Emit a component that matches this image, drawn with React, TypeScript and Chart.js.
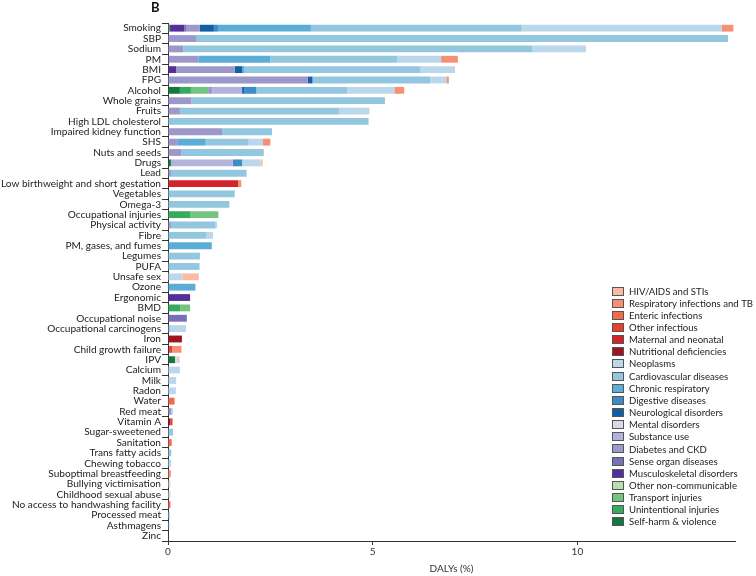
import React, { useEffect, useRef } from 'react';
import { Chart, registerables } from 'chart.js';

Chart.register(...registerables);

const categories = [
  'Smoking', 'SBP', 'Sodium', 'PM', 'BMI', 'FPG', 'Alcohol', 'Whole grains', 'Fruits', 'High LDL cholesterol',
  'Impaired kidney function', 'SHS', 'Nuts and seeds', 'Drugs', 'Lead', 'Low birthweight and short gestation', 'Vegetables', 'Omega-3', 'Occupational injuries', 'Physical activity',
  'Fibre', 'PM, gases, and fumes', 'Legumes', 'PUFA', 'Unsafe sex', 'Ozone', 'Ergonomic', 'BMD', 'Occupational noise', 'Occupational carcinogens',
  'Iron', 'Child growth failure', 'IPV', 'Calcium', 'Milk', 'Radon', 'Water', 'Red meat', 'Vitamin A', 'Sugar-sweetened',
  'Sanitation', 'Trans fatty acids', 'Chewing tobacco', 'Suboptimal breastfeeding', 'Bullying victimisation', 'Childhood sexual abuse', 'No access to handwashing facility', 'Processed meat', 'Asthmagens', 'Zinc',
];

// Series in stacking order (left to right); legend shows them reversed.
const selfHarm = [
  0, 0, 0, 0, 0, 0, 0.29, 0, 0, 0,
  0, 0, 0, 0.07, 0, 0, 0, 0, 0, 0,
  0, 0, 0, 0, 0, 0, 0, 0, 0, 0,
  0, 0, 0.17, 0, 0, 0, 0, 0, 0, 0,
  0, 0, 0, 0, 0, 0, 0, 0, 0, 0,
];
const unintentional = [
  0.05, 0, 0, 0, 0, 0, 0.27, 0, 0, 0,
  0, 0, 0, 0, 0, 0, 0, 0, 0.55, 0,
  0, 0, 0, 0, 0, 0, 0, 0.30, 0, 0,
  0, 0, 0, 0, 0, 0, 0, 0, 0, 0,
  0, 0, 0, 0, 0, 0, 0, 0, 0, 0,
];
const transport = [
  0, 0, 0, 0, 0, 0, 0.42, 0, 0, 0,
  0, 0, 0, 0, 0, 0, 0, 0, 0.68, 0,
  0, 0, 0, 0, 0, 0, 0, 0.24, 0, 0,
  0, 0, 0, 0, 0, 0, 0, 0, 0, 0,
  0, 0, 0, 0, 0, 0, 0, 0, 0, 0,
];
const otherNcd = [
  0, 0, 0, 0, 0, 0, 0, 0, 0, 0,
  0, 0, 0, 0, 0, 0, 0, 0, 0, 0,
  0, 0, 0, 0, 0, 0, 0, 0, 0, 0,
  0, 0, 0, 0, 0, 0, 0, 0, 0, 0,
  0, 0, 0, 0, 0, 0, 0, 0, 0, 0,
];
const musculoskeletal = [
  0.35, 0, 0, 0, 0.20, 0, 0, 0, 0, 0,
  0, 0, 0, 0, 0, 0, 0, 0, 0, 0,
  0, 0, 0, 0, 0, 0, 0.54, 0, 0, 0,
  0, 0, 0, 0, 0, 0, 0, 0, 0, 0,
  0, 0, 0, 0, 0, 0, 0, 0, 0, 0,
];
const senseOrgan = [
  0.04, 0, 0, 0.04, 0, 0, 0, 0, 0, 0,
  0, 0, 0, 0, 0, 0, 0, 0, 0, 0,
  0, 0, 0, 0, 0, 0, 0, 0, 0.46, 0,
  0, 0, 0, 0, 0, 0, 0, 0, 0, 0,
  0, 0, 0, 0, 0, 0, 0, 0, 0, 0,
];
const diabetesCkd = [
  0.34, 0.70, 0.37, 0.70, 1.43, 3.41, 0.10, 0.57, 0.29, 0,
  1.32, 0.24, 0.33, 0, 0.07, 0, 0, 0, 0, 0.07,
  0, 0, 0, 0, 0, 0, 0, 0, 0, 0,
  0, 0, 0, 0, 0, 0, 0, 0.08, 0, 0.03,
  0, 0, 0, 0, 0, 0, 0, 0, 0, 0,
];
const substanceUse = [
  0, 0, 0, 0, 0, 0, 0.73, 0, 0, 0,
  0, 0, 0, 1.51, 0, 0, 0, 0, 0, 0,
  0, 0, 0, 0, 0, 0, 0, 0, 0, 0,
  0, 0, 0, 0, 0, 0, 0, 0, 0, 0,
  0, 0, 0, 0, 0, 0, 0, 0, 0, 0,
];
const mental = [
  0, 0, 0, 0, 0, 0, 0, 0, 0, 0,
  0, 0, 0, 0, 0, 0, 0, 0, 0, 0,
  0, 0, 0, 0, 0, 0, 0, 0, 0, 0,
  0, 0, 0.07, 0, 0, 0, 0, 0, 0, 0,
  0, 0, 0, 0, 0.06, 0.06, 0, 0, 0, 0,
];
const neurological = [
  0.34, 0, 0, 0, 0.18, 0.12, 0.05, 0, 0, 0,
  0, 0, 0, 0, 0, 0, 0, 0, 0, 0,
  0, 0, 0, 0, 0, 0, 0, 0, 0, 0,
  0, 0, 0, 0, 0, 0, 0, 0, 0, 0,
  0, 0, 0, 0, 0, 0, 0, 0, 0, 0,
];
const digestive = [
  0.10, 0, 0, 0, 0, 0, 0.30, 0, 0, 0,
  0, 0, 0, 0.23, 0, 0, 0, 0, 0, 0,
  0, 0, 0, 0, 0, 0, 0, 0, 0, 0,
  0, 0, 0, 0, 0, 0, 0, 0, 0, 0,
  0, 0, 0, 0, 0, 0, 0, 0, 0, 0,
];
const chronicResp = [
  2.27, 0, 0, 1.76, 0.06, 0, 0, 0, 0, 0,
  0, 0.68, 0, 0, 0, 0, 0, 0, 0, 0,
  0, 1.07, 0, 0, 0, 0.67, 0, 0, 0, 0.04,
  0, 0, 0, 0, 0, 0, 0, 0, 0, 0,
  0, 0, 0, 0, 0, 0, 0, 0, 0.03, 0,
];
const cardiovascular = [
  5.15, 12.98, 8.52, 3.10, 4.30, 2.88, 2.22, 4.73, 3.90, 4.90,
  1.22, 1.05, 2.01, 0, 1.85, 0, 1.63, 1.50, 0, 1.09,
  0.94, 0, 0.78, 0.77, 0, 0, 0, 0, 0, 0,
  0, 0, 0, 0, 0, 0, 0, 0, 0, 0.09,
  0, 0.08, 0, 0, 0, 0, 0, 0.04, 0, 0,
];
const neoplasms = [
  4.88, 0, 1.32, 1.07, 0.84, 0.39, 1.15, 0, 0.73, 0,
  0, 0.34, 0, 0.45, 0, 0, 0, 0, 0, 0.04,
  0.16, 0, 0, 0, 0.35, 0, 0, 0, 0, 0.40,
  0, 0, 0, 0.29, 0.20, 0.19, 0, 0.04, 0, 0,
  0, 0, 0.08, 0, 0, 0, 0, 0, 0, 0,
];
const nutritional = [
  0, 0, 0, 0, 0, 0, 0, 0, 0, 0,
  0, 0, 0, 0, 0, 0, 0, 0, 0, 0,
  0, 0, 0, 0, 0, 0, 0, 0, 0, 0,
  0.34, 0.04, 0, 0, 0, 0, 0, 0, 0.06, 0,
  0, 0, 0, 0, 0, 0, 0, 0, 0, 0.005,
];
const maternal = [
  0, 0, 0, 0, 0, 0, 0, 0, 0, 0,
  0, 0, 0, 0, 0, 1.71, 0, 0, 0, 0,
  0, 0, 0, 0, 0, 0, 0, 0, 0, 0,
  0, 0, 0, 0, 0, 0, 0, 0, 0, 0,
  0, 0, 0, 0, 0, 0, 0, 0, 0, 0,
];
const otherInfectious = [
  0, 0, 0, 0, 0, 0, 0, 0, 0, 0,
  0, 0, 0, 0, 0, 0, 0, 0, 0, 0,
  0, 0, 0, 0, 0, 0, 0, 0, 0, 0,
  0, 0.06, 0, 0, 0, 0, 0, 0, 0.05, 0,
  0, 0, 0, 0, 0, 0, 0, 0, 0, 0,
];
const enteric = [
  0, 0, 0, 0, 0, 0, 0, 0, 0, 0,
  0, 0, 0, 0, 0, 0, 0, 0, 0, 0,
  0, 0, 0, 0, 0, 0, 0, 0, 0, 0,
  0, 0, 0, 0, 0, 0, 0.16, 0, 0, 0,
  0.09, 0, 0, 0, 0, 0, 0.06, 0, 0, 0,
];
const respInfections = [
  0.29, 0, 0, 0.41, 0, 0.06, 0.24, 0, 0, 0,
  0, 0.19, 0, 0, 0, 0.08, 0, 0, 0, 0,
  0, 0, 0, 0, 0, 0, 0, 0, 0, 0,
  0, 0.23, 0, 0, 0, 0, 0, 0, 0, 0,
  0, 0, 0, 0.07, 0, 0, 0, 0, 0, 0,
];
const hivStis = [
  0, 0, 0, 0, 0, 0, 0, 0, 0, 0,
  0, 0, 0, 0.05, 0, 0, 0, 0, 0, 0,
  0, 0, 0, 0, 0.40, 0, 0, 0, 0, 0,
  0, 0, 0.04, 0, 0, 0, 0, 0, 0, 0,
  0, 0, 0, 0, 0, 0, 0, 0, 0, 0,
];

const seriesLabels = [
  'Self-harm & violence', 'Unintentional injuries', 'Transport injuries', 'Other non-communicable',
  'Musculoskeletal disorders', 'Sense organ diseases', 'Diabetes and CKD', 'Substance use', 'Mental disorders',
  'Neurological disorders', 'Digestive diseases', 'Chronic respiratory', 'Cardiovascular diseases', 'Neoplasms',
  'Nutritional deficiencies', 'Maternal and neonatal', 'Other infectious', 'Enteric infections',
  'Respiratory infections and TB', 'HIV/AIDS and STIs',
];
const seriesValues = [
  selfHarm, unintentional, transport, otherNcd, musculoskeletal, senseOrgan, diabetesCkd, substanceUse, mental,
  neurological, digestive, chronicResp, cardiovascular, neoplasms, nutritional, maternal, otherInfectious, enteric,
  respInfections, hivStis,
];
const seriesColors = [
  '#17763d', '#37aa5e', '#74c47f', '#b7e0b0',
  '#55309a', '#7571b8', '#9c98c9', '#b3b2da', '#d8d8eb',
  '#135fa6', '#3b8cc7', '#5badd7', '#93c6df', '#bbd7ec',
  '#9b1620', '#d3232b', '#e9412f', '#f26b4d',
  '#f69074', '#f9bba2',
];

const xTickValues = [0, 5, 10];
const xMax = 13.85;
const axisTitle = 'DALYs (%)';
const panelLabel = 'B';

const FONT = "Lato, sans-serif";

const overlayPlugin = {
  id: 'overlay',
  afterDraw(chart: any) {
    const ctx = chart.ctx;
    const area = chart.chartArea;
    ctx.save();
    // panel label
    ctx.font = `bold 13px ${FONT}`;
    ctx.fillStyle = '#111';
    ctx.textBaseline = 'middle';
    ctx.textAlign = 'left';
    ctx.fillText(panelLabel, area.left - 17, 8);
    // legend (reverse of stacking order)
    const ds = chart.data.datasets.slice().reverse();
    const x0 = 612;
    const y0 = 291;
    const step = 12.15;
    ctx.font = `9.6px ${FONT}`;
    ds.forEach((d: any, i: number) => {
      const y = y0 + i * step;
      ctx.fillStyle = d.backgroundColor;
      ctx.fillRect(x0, Math.round(y - 4.5), 12, 9);
      ctx.strokeStyle = '#555';
      ctx.lineWidth = 1;
      ctx.strokeRect(x0 + 0.5, Math.round(y - 4.5) + 0.5, 11, 8);
      ctx.fillStyle = '#222';
      ctx.textAlign = 'left';
      ctx.fillText(d.label, x0 + 17, y + 0.5);
    });
    ctx.restore();
  },
};

export default function App() {
  const ref = useRef<HTMLCanvasElement>(null);
  useEffect(() => {
    if (!ref.current) return;
    const chart = new Chart(ref.current, {
      type: 'bar',
      data: {
        labels: categories,
        datasets: seriesLabels.map((label, i) => ({
          label,
          data: seriesValues[i],
          backgroundColor: seriesColors[i],
          borderWidth: 0,
          barPercentage: 0.66,
          categoryPercentage: 1,
        })),
      },
      options: {
        indexAxis: 'y',
        responsive: false,
        animation: false,
        maintainAspectRatio: false,
        layout: { padding: { top: 23, right: 21, left: 0, bottom: 0 } },
        plugins: {
          legend: { display: false },
          tooltip: { enabled: false },
          title: { display: false },
        },
        scales: {
          x: {
            type: 'linear',
            stacked: true,
            min: 0,
            max: xMax,
            afterBuildTicks: (s: any) => {
              s.ticks = xTickValues.map((v) => ({ value: v }));
            },
            afterFit: (s: any) => {
              s.height = 35;
            },
            grid: { display: true, drawOnChartArea: false, drawTicks: true, tickLength: 4, color: '#333' },
            border: { display: true, color: '#333', width: 1 },
            ticks: { font: { family: FONT, size: 10 }, color: '#333', padding: 1, maxRotation: 0 },
            title: { display: true, text: axisTitle, font: { family: FONT, size: 10 }, color: '#333', padding: { top: 0, bottom: 1 } },
          },
          y: {
            type: 'category',
            stacked: true,
            afterFit: (s: any) => {
              s.width = 168;
            },
            grid: { display: true, drawOnChartArea: false, drawTicks: true, tickLength: 6, offset: true, color: '#333' },
            border: { display: true, color: '#333', width: 1 },
            ticks: { font: { family: FONT, size: 10.1 }, color: '#222', padding: 1, autoSkip: false },
          },
        },
      },
      plugins: [overlayPlugin],
    });
    return () => chart.destroy();
  }, []);
  return (
    <div style={{ position: 'absolute', left: 0, top: 0, width: 756, height: 576, background: '#fff' }}>
      <canvas ref={ref} width={756} height={576} style={{ width: 756, height: 576 }} />
    </div>
  );
}
